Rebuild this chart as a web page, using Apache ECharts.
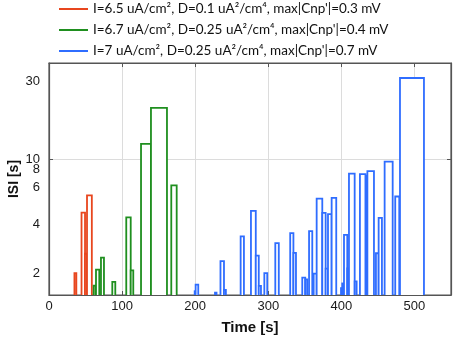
<!DOCTYPE html>
<html>
<head>
<meta charset="utf-8">
<script src="https://cdn.jsdelivr.net/npm/echarts@6/dist/echarts.min.js"></script>
<style>
html,body{margin:0;padding:0;background:#fff;}
#main{width:454px;height:339px;}
</style>
</head>
<body>
<div id="main"></div>
<script>
// ---- data: each bar = [start time (s), end time (s), ISI (s)] ----
const seriesNames = [
  "I=6.5 uA/cm\u00B2, D=0.1 uA\u00B2/cm\u2074, max|Cnp'|=0.3 mV",
  "I=6.7 uA/cm\u00B2, D=0.25 uA\u00B2/cm\u2074, max|Cnp'|=0.4 mV",
  "I=7 uA/cm\u00B2, D=0.25 uA\u00B2/cm\u2074, max|Cnp'|=0.7 mV"
];
const redBars = [
  [34.8, 37.4, 2.0],
  [44.5, 49.3, 4.7],
  [49.3, 52.0, 2.63],
  [52.0, 58.6, 6.0]
];
const greenBars = [
  [61.1, 63.9, 1.68],
  [64.3, 68.8, 2.10],
  [71.1, 75.2, 2.49],
  [86.6, 90.7, 1.77],
  [105.7, 111.8, 4.40],
  [111.8, 115.3, 2.08],
  [125.9, 139.5, 12.4],
  [139.5, 161.4, 20.6],
  [167.3, 174.7, 6.9]
];
const blueBars = [
  [199.3, 200.6, 1.55],
  [200.6, 204.2, 1.70],
  [227.1, 229.2, 1.52],
  [234.6, 239.4, 2.37],
  [239.4, 242.0, 1.58],
  [262.2, 266.7, 3.36],
  [276.3, 282.9, 4.82],
  [282.9, 287.0, 2.56],
  [287.0, 290.0, 1.67],
  [294.6, 298.6, 2.0],
  [309.6, 314.4, 3.06],
  [330.0, 334.4, 3.52],
  [334.4, 337.9, 2.66],
  [346.5, 350.6, 1.88],
  [350.6, 353.3, 1.83],
  [355.8, 360.2, 3.62],
  [362.1, 366.2, 1.99],
  [366.2, 373.9, 5.72],
  [373.9, 378.5, 4.68],
  [378.5, 381.7, 2.13],
  [381.7, 386.7, 4.60],
  [386.7, 393.0, 5.78],
  [399.5, 401.2, 1.62],
  [401.2, 403.6, 1.73],
  [403.6, 408.1, 3.43],
  [408.1, 410.4, 2.14],
  [410.4, 418.2, 8.15],
  [418.2, 420.9, 1.78],
  [425.4, 433.2, 8.08],
  [433.2, 435.6, 7.9],
  [435.6, 444.6, 8.45],
  [447.3, 451.0, 2.65],
  [451.0, 455.5, 4.37],
  [459.2, 470.2, 9.65],
  [473.7, 479.2, 5.9],
  [480.2, 513.0, 31.4]
];
const xTicks = [0, 100, 200, 300, 400, 500];
const yTickLabels = [2, 4, 6, 8, 10, 30];
const yGridValues = [10];
const xRange = [0, 550];
const yRange = [1.47, 38.8];
const colors = ['#e8461e', '#1f8f1f', '#2f6dff'];

// ---- chart ----
const lg = v => Math.log10(v);
const yMinL = lg(yRange[0]);
function makeRender(color) {
  return function (params, api) {
    const x0 = api.value(0), x1 = api.value(1), v = api.value(2);
    const pb = api.coord([x0, yMinL]);
    const pt = api.coord([x1, lg(v)]);
    return {
      type: 'rect',
      shape: { x: pb[0], y: pt[1], width: pt[0] - pb[0], height: pb[1] + 4 - pt[1] },
      style: { fill: '#ffffff', stroke: color, lineWidth: 1.8 }
    };
  };
}
const allBars = [redBars, greenBars, blueBars];
const series = allBars.map((bars, i) => ({
  type: 'custom',
  name: seriesNames[i],
  xAxisIndex: 0,
  yAxisIndex: 0,
  clip: true,
  z: 3,
  itemStyle: { color: colors[i] },
  renderItem: makeRender(colors[i]),
  encode: { x: [0, 1], y: 2 },
  data: bars
}));

const axisLineStyle = { color: '#555', width: 1.2 };
const labelFont = { fontFamily: 'Liberation Sans', fontSize: 13, color: '#1a1a1a' };

const option = {
  animation: false,
  backgroundColor: '#ffffff',
  grid: {
    left: 49, right: 3, top: 63, bottom: 44,
    containLabel: false,
    outerBoundsMode: 'none',
    show: true,
    borderColor: '#555',
    borderWidth: 1.2,
    backgroundColor: 'transparent'
  },
  legend: {
    orient: 'vertical',
    left: 59,
    top: 1,
    padding: 0,
    icon: 'rect',
    itemWidth: 29,
    itemHeight: 2,
    itemGap: 5,
    selectedMode: false,
    textStyle: { fontFamily: 'Lato', fontSize: 13.5, color: '#111', lineHeight: 16 },
    data: seriesNames
  },
  xAxis: [{
    type: 'value',
    min: xRange[0], max: xRange[1], interval: 100,
    name: 'Time [s]',
    nameLocation: 'middle',
    nameGap: 25,
    nameMoveOverlap: false,
    nameTextStyle: { fontFamily: 'Liberation Sans', fontSize: 15, fontWeight: 'bold', color: '#111' },
    axisLine: { show: true, lineStyle: axisLineStyle },
    axisTick: { show: true, inside: true, length: 4, customValues: xTicks, lineStyle: { color: '#555' } },
    axisLabel: Object.assign({ margin: 5, customValues: xTicks }, labelFont),
    splitLine: { show: true, lineStyle: { color: '#dcdcdc', width: 1 } }
  }, {
    type: 'value', position: 'top',
    min: xRange[0], max: xRange[1], interval: 100,
    axisLine: { show: true, onZero: false, lineStyle: axisLineStyle },
    axisTick: { show: true, inside: true, length: 4, customValues: xTicks, lineStyle: { color: '#555' } },
    axisLabel: { show: false },
    splitLine: { show: false }
  }],
  yAxis: [{
    type: 'value',
    min: lg(yRange[0]), max: lg(yRange[1]),
    name: 'ISI [s]',
    nameLocation: 'middle',
    nameGap: 28,
    nameMoveOverlap: false,
    nameTextStyle: { fontFamily: 'Liberation Sans', fontSize: 14, fontWeight: 'bold', color: '#111' },
    axisLine: { show: true, lineStyle: axisLineStyle },
    axisTick: { show: true, inside: true, length: 4, customValues: yGridValues.map(lg), lineStyle: { color: '#555' } },
    axisLabel: Object.assign({
      margin: 9,
      customValues: yTickLabels.map(lg),
      formatter: v => {
        const n = Math.round(Math.pow(10, v));
        if (n === 8) return '{up8|8}';
        if (n === 6) return '{up6|6}';
        return String(n);
      },
      rich: {
        up8: { fontFamily: 'Liberation Sans', fontSize: 13, color: '#1a1a1a', padding: [0, 0, 11, 0] },
        up6: { fontFamily: 'Liberation Sans', fontSize: 13, color: '#1a1a1a', padding: [0, 0, 16, 0] }
      }
    }, labelFont),
    splitLine: { show: true, lineStyle: { color: '#dcdcdc', width: 1 } }
  }, {
    type: 'value', position: 'right',
    min: lg(yRange[0]), max: lg(yRange[1]),
    axisLine: { show: true, onZero: false, lineStyle: axisLineStyle },
    axisTick: { show: true, inside: true, length: 4, customValues: yGridValues.map(lg), lineStyle: { color: '#555' } },
    axisLabel: { show: false },
    splitLine: { show: false }
  }],
  series: series
};
const chart = echarts.init(document.getElementById('main'), null, { renderer: 'canvas' });
chart.setOption(option);
</script>
</body>
</html>
